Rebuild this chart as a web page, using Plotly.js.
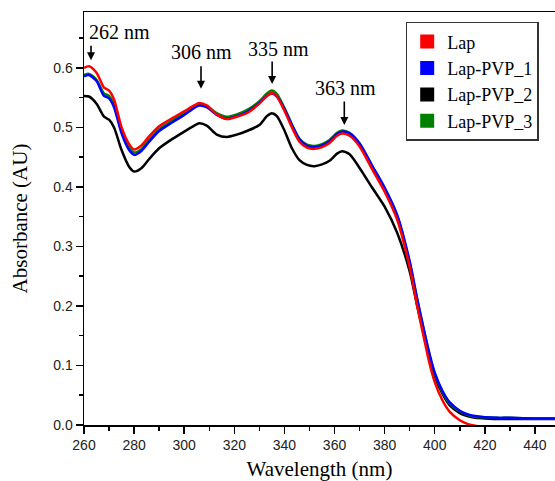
<!DOCTYPE html>
<html>
<head>
<meta charset="utf-8">
<script src="https://cdn.plot.ly/plotly-3.0.1.min.js"></script>
<style>html,body{margin:0;padding:0;background:#fff;}#chart{width:555px;height:481px;}</style>
</head>
<body>
<div id="chart"></div>
<script>
// Wavelength grid (nm)
const wavelength = [260,262,265,268,270,272,275,278,280,283,286,290,295,300,304,306,309,313,317,321,325,330,333,335,337,340,343,346,349,352,355,358,361,363,366,370,375,380,385,390,393,396,398,400,403,406,410,413,416,420,425,430,440,448];

// Absorbance (AU)
const lap = [0.600,0.603,0.592,0.567,0.562,0.547,0.500,0.472,0.463,0.470,0.485,0.502,0.515,0.527,0.537,0.541,0.537,0.522,0.514,0.518,0.524,0.540,0.553,0.558,0.552,0.528,0.500,0.476,0.466,0.464,0.467,0.474,0.486,0.490,0.486,0.468,0.430,0.392,0.345,0.265,0.200,0.140,0.102,0.072,0.042,0.022,0.008,0.002,-0.001,-0.004,-0.007,-0.009,-0.011,-0.012];
const lapPVP1 = [0.586,0.588,0.578,0.553,0.549,0.534,0.490,0.462,0.454,0.461,0.476,0.494,0.508,0.521,0.533,0.537,0.534,0.521,0.515,0.519,0.526,0.541,0.553,0.557,0.552,0.531,0.504,0.480,0.469,0.467,0.470,0.477,0.489,0.493,0.490,0.473,0.436,0.399,0.353,0.275,0.212,0.154,0.118,0.088,0.058,0.038,0.024,0.018,0.015,0.013,0.012,0.012,0.011,0.011];
const lapPVP2 = [0.553,0.552,0.540,0.518,0.513,0.500,0.462,0.434,0.426,0.432,0.447,0.465,0.480,0.493,0.503,0.507,0.503,0.488,0.484,0.488,0.494,0.504,0.519,0.524,0.519,0.495,0.465,0.445,0.437,0.435,0.438,0.444,0.456,0.460,0.455,0.432,0.399,0.367,0.323,0.258,0.200,0.146,0.110,0.082,0.053,0.033,0.020,0.015,0.012,0.011,0.010,0.010,0.010,0.010];
const lapPVP3 = [0.588,0.590,0.580,0.557,0.553,0.538,0.494,0.466,0.458,0.464,0.479,0.497,0.511,0.524,0.535,0.539,0.536,0.524,0.518,0.522,0.529,0.544,0.557,0.562,0.556,0.533,0.505,0.481,0.471,0.469,0.472,0.479,0.491,0.495,0.491,0.473,0.435,0.397,0.351,0.273,0.210,0.152,0.116,0.086,0.056,0.036,0.023,0.017,0.014,0.013,0.012,0.012,0.011,0.011];

const seriesNames = ['Lap','Lap-PVP_1','Lap-PVP_2','Lap-PVP_3'];
const seriesColors = ['#ff0000','#0000ff','#000000','#008000'];
const seriesData = [lap, lapPVP1, lapPVP2, lapPVP3];
const drawOrder = [2,3,1,0];

// Peak labels
const peakNm = [262,306,335,363];
const peakLabels = ['262 nm','306 nm','335 nm','363 nm'];

const serif = 'Liberation Serif, Times New Roman, serif';
const sans = 'Liberation Sans, Arial, sans-serif';

const traces = [];
drawOrder.forEach(i => {
  traces.push({
    x: wavelength, y: seriesData[i], type: 'scatter', mode: 'lines',
    name: seriesNames[i], showlegend: false,
    line: {color: seriesColors[i], width: 2.5, shape: 'spline', smoothing: 0.7},
    hoverinfo: 'skip'
  });
});
seriesNames.forEach((n, i) => {
  traces.push({
    x: [null], y: [null], type: 'scatter', mode: 'markers', name: n,
    legendrank: i + 1,
    marker: {symbol: 'square', size: 14, color: seriesColors[i]}
  });
});

// arrow tips (data y) and lengths (px), label positions
const arrowTipY = [0.613,0.565,0.573,0.504];
const arrowX = [262.8,306.7,335.1,363.9];
const arrowLen = [16,24,24,25];
const labelX = [274.1,307.0,337.7,364.2];
const labelY = [0.660,0.626,0.632,0.567];

const annotations = [];
peakNm.forEach((p, i) => {
  annotations.push({
    x: arrowX[i], y: arrowTipY[i], xref: 'x', yref: 'y', text: '',
    showarrow: true, arrowhead: 2, arrowsize: 1, arrowwidth: 1.6, arrowcolor: '#000',
    ax: 0, ay: -arrowLen[i]
  });
  annotations.push({
    x: labelX[i], y: labelY[i], xref: 'x', yref: 'y', text: peakLabels[i],
    showarrow: false, xanchor: 'center', yanchor: 'middle',
    font: {family: serif, size: 20, color: '#000'}
  });
});

const layout = {
  width: 555, height: 481,
  margin: {l: 84, r: 0, t: 12, b: 56},
  paper_bgcolor: '#fff', plot_bgcolor: '#fff',
  showlegend: true,
  xaxis: {
    range: [260, 448], tick0: 260, dtick: 20,
    ticks: 'outside', ticklen: 7, tickwidth: 1.5, tickcolor: '#000',
    showline: true, linecolor: '#000', linewidth: 1.5, mirror: true,
    showgrid: false, zeroline: false,
    minor: {dtick: 10, ticks: 'outside', ticklen: 4, tickwidth: 1.5, tickcolor: '#000', showgrid: false},
    tickfont: {family: sans, size: 14, color: '#222'},
    title: {text: 'Wavelength (nm)', font: {family: serif, size: 21, color: '#000'}, standoff: 16}
  },
  yaxis: {
    range: [0, 0.694], tick0: 0, dtick: 0.1, tickformat: '.1f',
    ticks: 'outside', ticklen: 7, tickwidth: 1.5, tickcolor: '#000',
    showline: true, linecolor: '#000', linewidth: 1.5,
    showgrid: false, zeroline: false,
    minor: {dtick: 0.05, ticks: 'outside', ticklen: 4, tickwidth: 1.5, tickcolor: '#000', showgrid: false},
    tickfont: {family: sans, size: 14, color: '#222'},
    title: {text: 'Absorbance (AU)', font: {family: serif, size: 21, color: '#000'}, standoff: 20}
  },
  legend: {
    x: 0.683, y: 0.976, xanchor: 'left', yanchor: 'top',
    bgcolor: '#fff', bordercolor: '#333', borderwidth: 1.5,
    font: {family: serif, size: 18, color: '#000'},
    traceorder: 'normal', itemwidth: 30
  },
  annotations: annotations
};

Plotly.newPlot('chart', traces, layout, {staticPlot: true, displayModeBar: false});
</script>
</body>
</html>
